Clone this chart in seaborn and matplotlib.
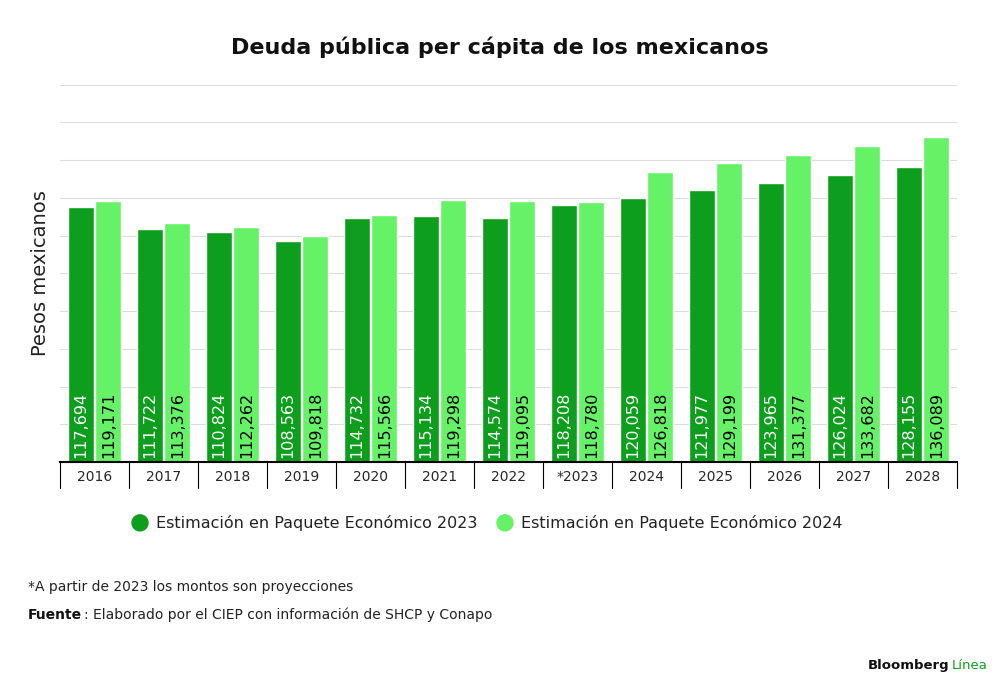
import matplotlib
matplotlib.use("Agg")
import matplotlib.pyplot as plt
import seaborn as sns
import pandas as pd

years = ["2016", "2017", "2018", "2019", "2020", "2021", "2022", "*2023",
         "2024", "2025", "2026", "2027", "2028"]
paquete_2023 = [117694, 111722, 110824, 108563, 114732, 115134, 114574, 118208,
                120059, 121977, 123965, 126024, 128155]
paquete_2024 = [119171, 113376, 112262, 109818, 115566, 119298, 119095, 118780,
                126818, 129199, 131377, 133682, 136089]
series = ["Estimación en Paquete Económico 2023", "Estimación en Paquete Económico 2024"]
colors = ["#0c9e1c", "#66f266"]

df = pd.DataFrame({
    "year": years * 2,
    "value": paquete_2023 + paquete_2024,
    "serie": [series[0]] * len(years) + [series[1]] * len(years),
})

sns.set_theme(style="white")
plt.rcParams["font.family"] = ["DejaVu Sans"]

fig = plt.figure(figsize=(10, 6.99), dpi=100)
ax = fig.add_axes([0.06, 0.339, 0.897, 0.54])
sns.barplot(data=df, x="year", y="value", hue="serie", palette=colors,
            width=0.8, gap=0.06, ax=ax, legend=False, saturation=1)

ax.set_ylim(50000, 150000)
ax.set_xlim(-0.5, len(years) - 0.5)
ax.set_yticks(range(50000, 150001, 10000))
ax.set_yticklabels([])
ax.tick_params(axis="y", length=0)
ax.grid(axis="y", color="#dddddd", linewidth=0.8)
ax.set_axisbelow(True)
for s in ["top", "right", "left"]:
    ax.spines[s].set_visible(False)
ax.spines["bottom"].set_color("black")
ax.spines["bottom"].set_linewidth(1.5)
ax.set_xlabel("")
ax.set_ylabel("Pesos mexicanos", fontsize=14, color="#222222")
ax.tick_params(axis="x", length=0, labelsize=10, pad=6)

for i in range(len(years) + 1):
    ax.plot([i - 0.5, i - 0.5], [0, -0.07], transform=ax.get_xaxis_transform(),
            color="black", linewidth=0.8, clip_on=False)

for bars, tc in zip(ax.containers, ["white", "black"]):
    for b in bars:
        ax.text(b.get_x() + b.get_width() / 2, 51000, f"{int(b.get_height()):,}",
                rotation=90, ha="center", va="bottom", color=tc, fontsize=11.5)

fig.text(0.5, 0.932, "Deuda pública per cápita de los mexicanos", ha="center",
         va="center", fontsize=16, fontweight="bold", color="#111111")

for xc, col, lab in [(0.14, colors[0], series[0]), (0.505, colors[1], series[1])]:
    fig.patches.append(matplotlib.patches.Ellipse((xc, 0.252), 0.016, 0.0229,
                       transform=fig.transFigure, color=col))
    fig.text(xc + 0.016, 0.252, lab, va="center", fontsize=11.5, color="#222222")

fig.text(0.028, 0.16, "*A partir de 2023 los montos son proyecciones", fontsize=10,
         va="center", color="#222222")

renderer = fig.canvas.get_renderer()


def text_pair(x, y, first, second, fs, c2="#222222", bold_first=True):
    t1 = fig.text(x, y, first, fontsize=fs, va="center", color="#111111",
                  fontweight="bold" if bold_first else "normal")
    bb = t1.get_window_extent(renderer).transformed(fig.transFigure.inverted())
    fig.text(bb.x1 + 0.002, y, second, fontsize=fs, va="center", color=c2)


text_pair(0.028, 0.12, "Fuente", ": Elaborado por el CIEP con información de SHCP y Conapo", 10)
text_pair(0.868, 0.048, "Bloomberg", "Línea", 9.5, c2="#0c9e1c")

fig.savefig("out.png", dpi=100, facecolor="white")
